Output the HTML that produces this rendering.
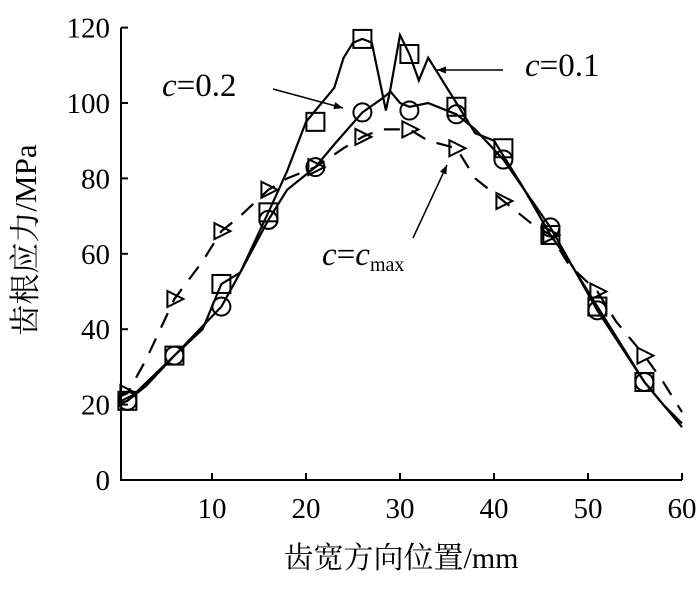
<!DOCTYPE html>
<html><head><meta charset="utf-8"><style>
html,body{margin:0;padding:0;background:#fff;}
svg text{font-family:"Liberation Serif","Noto Serif CJK SC",serif;fill:#000;}
</style></head><body>
<svg id="chart" width="700" height="584" viewBox="0 0 700 584" xmlns="http://www.w3.org/2000/svg">
<defs><marker id="ah" viewBox="0 0 10 10" refX="10" refY="5" markerWidth="9" markerHeight="6" orient="auto"><path d="M0,1 L10,5 L0,9 Z" fill="#000"/></marker></defs>
<g id="axes"></g>
<g id="series"></g>
<g id="ann"></g>
</svg>
<script>
const xTicks=[10,20,30,40,50,60];
const yTicks=[0,20,40,60,80,100,120];
const markX=[1,6,11,16,21,26,31,36,41,46,51,56];
const sq=[21,33,52,71,95,117,113,99,88,65,46,26];
const ci=[21,33,46,69,83,97.5,98,97,85,67,45,26];
const tri=[23,48,66,77,83,91,93,88,74,65,50,33];
const l1x=[0,1,3,6,9,11,13,16,18,20,21,23,24,25,26,27,28.5,29,30,31,32,33,34,36,38,40,41,43,46,48,51,53,56,58,60];
const l1y=[20,21,25,33,40,52,55,71,82,95,98,104,112,116,117,116,98,104,118,113,106,112,108,100,92,90,86,78,65,58,46,38,26,20,15];
const l2x=[0,1,6,11,13,16,18,21,23,26,28,29,30,31,33,34,36,38,41,46,51,56,60];
const l2y=[20,21,33,46,55,69,77,83,89,97.5,101,103,100,99,100,99,97,93,85,67,45,26,14];
const l3x=[0,1,3,6,9,11,13,16,18,21,24,26,28,31,33,36,38,41,44,46,48,51,53,56,58,60];
const l3y=[22,23,32,48,58,66,70,77,80,83,88,91,93,93,90,88,80,74,68,65,57,50,42,33,26,18];
const NS="http://www.w3.org/2000/svg";
const X=v=>118+v*9.4, Y=v=>480-v*3.77;
function mk(t,a,p){const e=document.createElementNS(NS,t);for(const k in a)e.setAttribute(k,a[k]);(p||document.getElementById('series')).appendChild(e);return e;}
const ax=document.getElementById('axes');
let e=mk('path',{d:`M121,${Y(120)} V480 H682`,stroke:'#000','stroke-width':2,fill:'none'},ax);


xTicks.forEach(v=>{let t=mk('line',{x1:X(v),x2:X(v),y1:480,y2:473,stroke:'#000','stroke-width':2},ax);


let l=mk('text',{x:X(v),y:518,'text-anchor':'middle','font-size':29},ax);l.textContent=v;

});
yTicks.forEach(v=>{let t=mk('line',{x1:121,x2:128,y1:Y(v),y2:Y(v),stroke:'#000','stroke-width':2},ax);


let l=mk('text',{x:110,y:Y(v)+10,'text-anchor':'end','font-size':29},ax);l.textContent=v;

});
let xt=mk('text',{x:401,y:568,'text-anchor':'middle','font-size':30},ax);xt.textContent='齿宽方向位置/mm';


let yt=mk('text',{x:0,y:0,'text-anchor':'middle','font-size':31,transform:'translate(36,240) rotate(-90)'},ax);yt.textContent='齿根应力/MPa';


function line(xs,ys,name,dash){const d=xs.map((x,i)=>(i?'L':'M')+X(x).toFixed(1)+','+Y(ys[i]).toFixed(1)).join(' ');
const p=mk('path',{d,fill:'none',stroke:'#000','stroke-width':2.2,'stroke-dasharray':dash||'none'});

}
line(l1x,l1y,'line-c-0-1');
line(l2x,l2y,'line-c-0-2');
line(l3x,l3y,'line-c-max','16,12');
markX.forEach((x,i)=>{const cx=X(x);
let s=mk('rect',{x:cx-9,y:Y(sq[i])-9,width:18,height:18,fill:'none',stroke:'#000','stroke-width':2});


let c=mk('circle',{cx:cx,cy:Y(ci[i]),r:9,fill:'none',stroke:'#000','stroke-width':2});


const ty=Y(tri[i]);
let t=mk('path',{d:`M${cx-7},${ty-8} L${cx+9},${ty} L${cx-7},${ty+8} Z`,fill:'none',stroke:'#000','stroke-width':2});

});
const an=document.getElementById('ann');
function lab(x,y,html,name){const t=mk('text',{x,y,'font-size':33},an);t.innerHTML=html;

}
lab(162,96,'<tspan font-style="italic">c</tspan>=0.2','label-c-0-2');
lab(525,76,'<tspan font-style="italic">c</tspan>=0.1','label-c-0-1');
lab(322,265,'<tspan font-style="italic">c</tspan>=<tspan font-style="italic">c</tspan><tspan font-size="20" dy="6">max</tspan>','label-c-max');
function arr(x1,y1,x2,y2,name){const a=mk('line',{x1,y1,x2,y2,stroke:'#000','stroke-width':1.5,'marker-end':'url(#ah)'},an);

}
arr(273,89,343,108,'arrow-c-0-2');
arr(503,70,437,70,'arrow-c-0-1');
arr(413,238,447,165,'arrow-c-max');
</script>
</body></html>
